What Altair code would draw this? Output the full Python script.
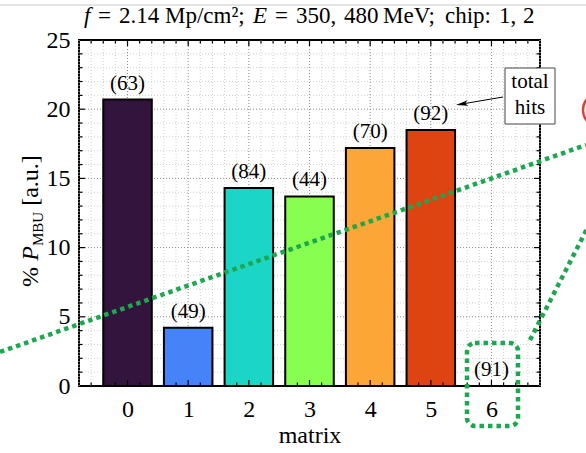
import altair as alt
import pandas as pd

# ---- data ----
matrices = [0, 1, 2, 3, 4, 5, 6]
values = [20.7, 4.2, 14.3, 13.7, 17.2, 18.5, 0.0]
hits = [63, 49, 84, 44, 70, 92, 91]
colors = ["#33143c", "#4682f8", "#1bd6c6", "#88fe50", "#fba636", "#dd4411", "#7a0403"]
y_major = [0, 5, 10, 15, 20, 25]
y_ticks = list(range(0, 26))
x_ticks = [round(-0.8 + 0.2 * i, 1) for i in range(39)]
title_words = ["f", "=", "2.14", "Mp/cm²;", "E", "=", "350,", "480", "MeV;", "chip:", "1,", "2"]
title_italic = [True, False, False, False, True, False, False, False, False, False, False, False]
title_x = [84, 98, 119, 165, 253, 275, 296, 344, 383, 445, 499, 523]

FONT = "Liberation Serif"
FS = 24
W, H = 461, 346
PL, PT, PR, PB = 79, 40, 46, 67

df = pd.DataFrame({"matrix": matrices, "value": values, "hits": hits, "color": colors})
df["lo"] = df["matrix"] - 0.4
df["hi"] = df["matrix"] + 0.4
df["label"] = ["(" + str(h) + ")" for h in hits]

xs = alt.Scale(domain=[-0.8, 6.8], nice=False, zero=False)
ys = alt.Scale(domain=[0, 25], nice=False)

XAX = alt.Axis(values=matrices, format="d", title="matrix", grid=False, domain=False,
               ticks=False, tickSize=0, labelFont=FONT, labelFontSize=FS, labelColor="black",
               labelPadding=11, titleFont=FONT, titleFontSize=FS, titleFontWeight="normal",
               titleColor="black", titlePadding=2)
YAX = alt.Axis(values=y_major, format="d", title=None, grid=False, domain=False, ticks=False,
               tickSize=0, labelFont=FONT, labelFontSize=FS, labelColor="black", labelPadding=9)

one = pd.DataFrame({"a": [0]})

# grids
xg_major = pd.DataFrame({"v": [m for m in matrices]})
xg_minor = pd.DataFrame({"v": [v for v in x_ticks if abs(v - round(v)) > 1e-6]})
yg_major = pd.DataFrame({"v": [v for v in y_major if 0 < v < 25]})
yg_minor = pd.DataFrame({"v": [v for v in y_ticks if v % 5 != 0]})

def vgrid(d, color):
    return alt.Chart(d).mark_rule(color=color, strokeWidth=1, strokeDash=[1, 2]).encode(
        x=alt.X("v:Q", scale=xs, axis=XAX), y=alt.value(0), y2=alt.value(H))

def hgrid(d, color):
    return alt.Chart(d).mark_rule(color=color, strokeWidth=1, strokeDash=[1, 2]).encode(
        y=alt.Y("v:Q", scale=ys, axis=YAX), x=alt.value(0), x2=alt.value(W))

grids = [vgrid(xg_minor, "#d0d0d0"), hgrid(yg_minor, "#d0d0d0"),
         vgrid(xg_major, "#8a8a8a"), hgrid(yg_major, "#8a8a8a")]

# ticks (inward, all four sides)
xt_major = pd.DataFrame({"v": [v for v in x_ticks if abs(v - round(v)) < 1e-6 and -0.8 < v < 6.8]})
xt_minor = pd.DataFrame({"v": [v for v in x_ticks if abs(v - round(v)) > 1e-6 and -0.8 < v < 6.8]})
yt_major = pd.DataFrame({"v": [v for v in y_major if 0 < v < 25]})
yt_minor = pd.DataFrame({"v": [v for v in y_ticks if v % 5 != 0]})

ticks = []
for d, L in [(xt_major, 6), (xt_minor, 3.5)]:
    ticks.append(alt.Chart(d).mark_rule(color="black", strokeWidth=1.2).encode(
        x=alt.X("v:Q", scale=xs, axis=XAX), y=alt.value(H), y2=alt.value(H - L)))
    ticks.append(alt.Chart(d).mark_rule(color="black", strokeWidth=1.2).encode(
        x=alt.X("v:Q", scale=xs, axis=XAX), y=alt.value(0), y2=alt.value(L)))
for d, L in [(yt_major, 6), (yt_minor, 3.5)]:
    ticks.append(alt.Chart(d).mark_rule(color="black", strokeWidth=1.2).encode(
        y=alt.Y("v:Q", scale=ys, axis=YAX), x=alt.value(0), x2=alt.value(L)))
    ticks.append(alt.Chart(d).mark_rule(color="black", strokeWidth=1.2).encode(
        y=alt.Y("v:Q", scale=ys, axis=YAX), x=alt.value(W), x2=alt.value(W - L)))

bars = alt.Chart(df).mark_rect(stroke="black", strokeWidth=2).encode(
    x=alt.X("lo:Q", scale=xs, axis=XAX),
    x2="hi:Q",
    y=alt.Y("value:Q", scale=ys, axis=YAX),
    y2=alt.datum(0),
    color=alt.Color("color:N", scale=None),
)

labels = alt.Chart(df).mark_text(font=FONT, fontSize=21, dy=-16, baseline="middle",
                                 color="black").encode(
    x=alt.X("matrix:Q", scale=xs, axis=XAX),
    y=alt.Y("value:Q", scale=ys, axis=YAX),
    text="label:N")

def txt(s, x, y, size=20, style="normal", angle=0, align="left"):
    return alt.Chart(one).mark_text(text=s, font=FONT, fontSize=size, fontStyle=style,
                                    angle=angle, align=align, baseline="middle",
                                    color="black").encode(x=alt.value(x), y=alt.value(y))

# title pieces
title_layers = [
    txt(w, x - PL, -24, 23, "italic" if it else "normal")
    for w, it, x in zip(title_words, title_italic, title_x)
]

# y axis title pieces (rotated)
ylab = [
    txt("%", -48, 237, FS, angle=270, align="center"),
    txt("P", -48, 213.5, FS, "italic", angle=270, align="center"),
    txt("MBU", -41, 189, 15, angle=270, align="center"),
    txt("[a.u.]", -48, 140.5, FS, angle=270, align="center"),
]

# annotation box "total hits"
box = alt.Chart(one).mark_rect(fill="white", stroke="#444444", strokeWidth=1).encode(
    x=alt.value(426), x2=alt.value(476), y=alt.value(28), y2=alt.value(84))
box_text = [txt("total", 451, 42, 21, align="center"), txt("hits", 451, 68, 21, align="center")]
arrow = alt.Chart(one).mark_rule(color="black", strokeWidth=1).encode(
    x=alt.value(424), y=alt.value(57), x2=alt.value(380), y2=alt.value(64.5))
arrow_head = alt.Chart(one).mark_point(
    shape="M-1,0L1,-0.45L0.5,0L1,0.45Z", size=150, filled=True, color="black",
    opacity=1, angle=350).encode(x=alt.value(383), y=alt.value(64))

# overlay decorations
topline = alt.Chart(one).mark_rule(color="#c8c8c8", strokeWidth=1).encode(
    x=alt.value(-PL), x2=alt.value(W + PR), y=alt.value(-35), y2=alt.value(-35))
green = "#1ba84f"
gline1 = alt.Chart(one).mark_rule(color=green, strokeWidth=4.5, strokeDash=[4.5, 4],
                                  strokeCap="butt").encode(
    x=alt.value(-PL), y=alt.value(312), x2=alt.value(507), y2=alt.value(105))
gline2 = alt.Chart(one).mark_rule(color=green, strokeWidth=4.5, strokeDash=[4.5, 4],
                                  strokeCap="butt").encode(
    x=alt.value(451), y=alt.value(300), x2=alt.value(510), y2=alt.value(185))
grect = alt.Chart(one).mark_rect(fillOpacity=0, stroke=green, strokeWidth=4.5,
                                 strokeDash=[4.5, 4], cornerRadius=8).encode(
    x=alt.value(388), x2=alt.value(439), y=alt.value(303), y2=alt.value(386))
red = alt.Chart(one).mark_point(shape="circle", size=1156, filled=False, stroke="#d8443c",
                                strokeWidth=2.5, opacity=1).encode(
    x=alt.value(521), y=alt.value(70))

chart = alt.layer(
    *grids, bars, labels, *ticks, *title_layers, *ylab, arrow, arrow_head, box, *box_text,
    topline, gline1, gline2, grect, red
).properties(
    width=W, height=H,
    autosize=alt.AutoSizeParams(type="none"),
    padding={"left": PL, "top": PT, "right": PR, "bottom": PB},
    background="white",
).configure_view(stroke="black", strokeWidth=2)

chart.save("out.html", embed_options={"renderer": "svg", "actions": False})
